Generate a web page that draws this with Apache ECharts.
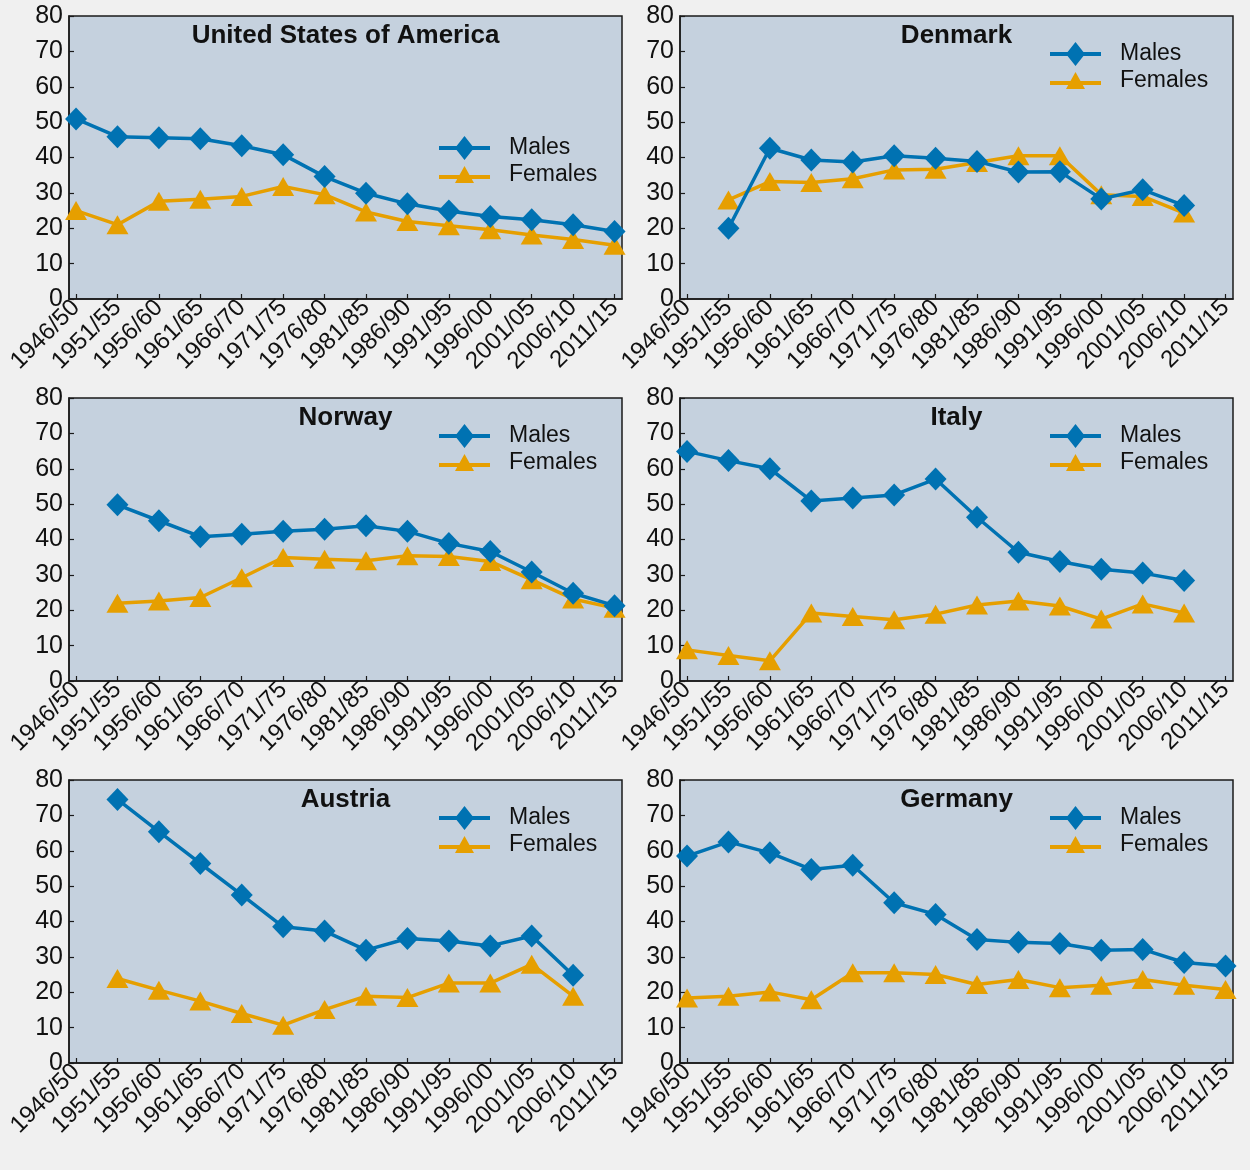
<!DOCTYPE html>
<html>
<head>
<meta charset="utf-8">
<script src="https://cdn.jsdelivr.net/npm/echarts@6/dist/echarts.min.js"></script>
<style>
html,body{margin:0;padding:0;background:#f0f0f0;}
#main{width:1250px;height:1170px;}
</style>
</head>
<body>
<div id="main"></div>
<script>
const categories = ['1946/50','1951/55','1956/60','1961/65','1966/70','1971/75','1976/80','1981/85','1986/90','1991/95','1996/00','2001/05','2006/10','2011/15'];
const yTicks = [0,10,20,30,40,50,60,70,80];
const seriesNames = ['Males','Females'];
const countries = ['United States of America','Denmark','Norway','Italy','Austria','Germany'];

const usaMales      = [50.9,45.9,45.6,45.3,43.3,40.8,34.6,29.9,26.9,24.9,23.3,22.4,21.0,19.1];
const usaFemales    = [25.0,21.0,27.6,28.2,29.0,31.8,29.5,24.6,21.9,20.7,19.6,18.1,16.8,15.2];
const denmarkMales  = [null,20.0,42.6,39.3,38.7,40.5,39.8,38.9,35.9,36.0,28.3,30.9,26.4,null];
const denmarkFemales= [null,28.0,33.2,32.9,34.0,36.5,36.7,38.6,40.5,40.5,29.5,29.0,24.3,null];
const norwayMales   = [null,49.8,45.3,40.8,41.5,42.3,42.9,43.9,42.3,38.9,36.6,30.8,24.8,21.3];
const norwayFemales = [null,22.0,22.6,23.6,29.2,34.9,34.4,34.0,35.4,35.2,33.8,28.6,23.2,20.6];
const italyMales    = [64.9,62.3,60.0,50.9,51.7,52.6,57.1,46.3,36.4,33.8,31.6,30.5,28.4,null];
const italyFemales  = [8.8,7.2,5.7,19.2,18.2,17.3,18.9,21.5,22.6,21.2,17.5,21.8,19.2,null];
const austriaMales  = [null,74.5,65.4,56.4,47.5,38.5,37.3,31.9,35.2,34.5,33.1,35.9,24.8,null];
const austriaFemales= [null,23.9,20.6,17.5,14.0,10.7,15.1,18.9,18.5,22.6,22.6,27.9,18.9,null];
const germanyMales  = [58.5,62.5,59.4,54.7,55.9,45.3,42.0,34.9,34.1,33.8,31.9,32.1,28.4,27.4];
const germanyFemales= [18.4,18.9,20.1,17.9,25.5,25.5,25.0,22.2,23.6,21.3,22.0,23.6,22.0,20.8];

const malesByCountry = [usaMales, denmarkMales, norwayMales, italyMales, austriaMales, germanyMales];
const femalesByCountry = [usaFemales, denmarkFemales, norwayFemales, italyFemales, austriaFemales, germanyFemales];

const FONT = "'Liberation Sans', Arial, sans-serif";
const BLUE = '#0072b2';
const ORANGE = '#e69f00';
const PLOT_W = 553, PLOT_H = 283;
const lefts = [69, 680];
const tops = [16, 398, 780];

// legend icons: line + marker, drawn in a 51-wide box
const MALE_ICON = 'path://M0,10 L51,10 L51,14 L0,14 Z M25.5,0 L35,12 L25.5,24 L16,12 Z';
const FEMALE_ICON = 'path://M0,9 L51,9 L51,13 L0,13 Z M25.5,0 L35,17 L16,17 Z';

const grid = [], xAxis = [], yAxis = [], series = [], legend = [], graphic = [];
const idx = categories.map((c, i) => i);

countries.forEach((name, k) => {
  const col = k % 2, row = Math.floor(k / 2);
  const L = lefts[col], T = tops[row];
  grid.push({left: L, top: T, width: PLOT_W, height: PLOT_H, show: true,
    backgroundColor: '#c5d1de', borderColor: '#1a1a1a', borderWidth: 1.5, containLabel: false});
  xAxis.push({type: 'value', gridIndex: k, min: -0.17, max: 13.18,
    axisLine: {show: true, onZero: false, lineStyle: {color: '#1a1a1a', width: 1.5}},
    axisTick: {show: true, inside: true, length: 5, customValues: idx, lineStyle: {color: '#1a1a1a', width: 1.2}},
    splitLine: {show: false},
    axisLabel: {show: true, customValues: idx, rotate: 45, margin: 5, fontSize: 24, color: '#111', fontFamily: FONT,
      formatter: v => categories[Math.round(v)]}
  });
  yAxis.push({type: 'value', gridIndex: k, min: 0, max: 80, interval: 10,
    axisLine: {show: true, onZero: false, lineStyle: {color: '#1a1a1a', width: 1.5}},
    axisTick: {show: true, inside: true, length: 5, lineStyle: {color: '#1a1a1a', width: 1.2}},
    splitLine: {show: false},
    axisLabel: {margin: 6, fontSize: 25, color: '#111', fontFamily: FONT}
  });
  const m = malesByCountry[k], f = femalesByCountry[k];
  series.push({name: seriesNames[0], type: 'line', xAxisIndex: k, yAxisIndex: k,
    data: m.map((v, i) => [i, v == null ? '-' : v]),
    symbol: 'diamond', symbolSize: [22, 23], showAllSymbol: true,
    lineStyle: {color: BLUE, width: 3.5}, itemStyle: {color: BLUE}, z: 3});
  series.push({name: seriesNames[1], type: 'line', xAxisIndex: k, yAxisIndex: k,
    data: f.map((v, i) => [i, v == null ? '-' : v]),
    symbol: 'triangle', symbolSize: [22, 19], showAllSymbol: true,
    lineStyle: {color: ORANGE, width: 3.5}, itemStyle: {color: ORANGE}, z: 2});
  const legTop = k === 0 ? 131 : T + 21;
  legend.push({
    data: [{name: seriesNames[0], icon: MALE_ICON}, {name: seriesNames[1], icon: FEMALE_ICON}],
    orient: 'vertical', left: L + 365, top: legTop,
    itemWidth: 51, itemHeight: 24, itemGap: 3, selectedMode: false,
    textStyle: {fontSize: 23, color: '#111', fontFamily: FONT, padding: [0, 0, 0, 14]}});
  graphic.push({type: 'text', x: L + PLOT_W / 2, y: T + 20,
    style: {text: name, font: 'bold 26px ' + FONT, fill: '#111',
      textAlign: 'center', textVerticalAlign: 'middle'}});
});

const chart = echarts.init(document.getElementById('main'), null, {renderer: 'canvas'});
chart.setOption({
  backgroundColor: '#f0f0f0',
  animation: false,
  textStyle: {fontFamily: FONT},
  grid, xAxis, yAxis, series, legend, graphic
});
</script>
</body>
</html>
